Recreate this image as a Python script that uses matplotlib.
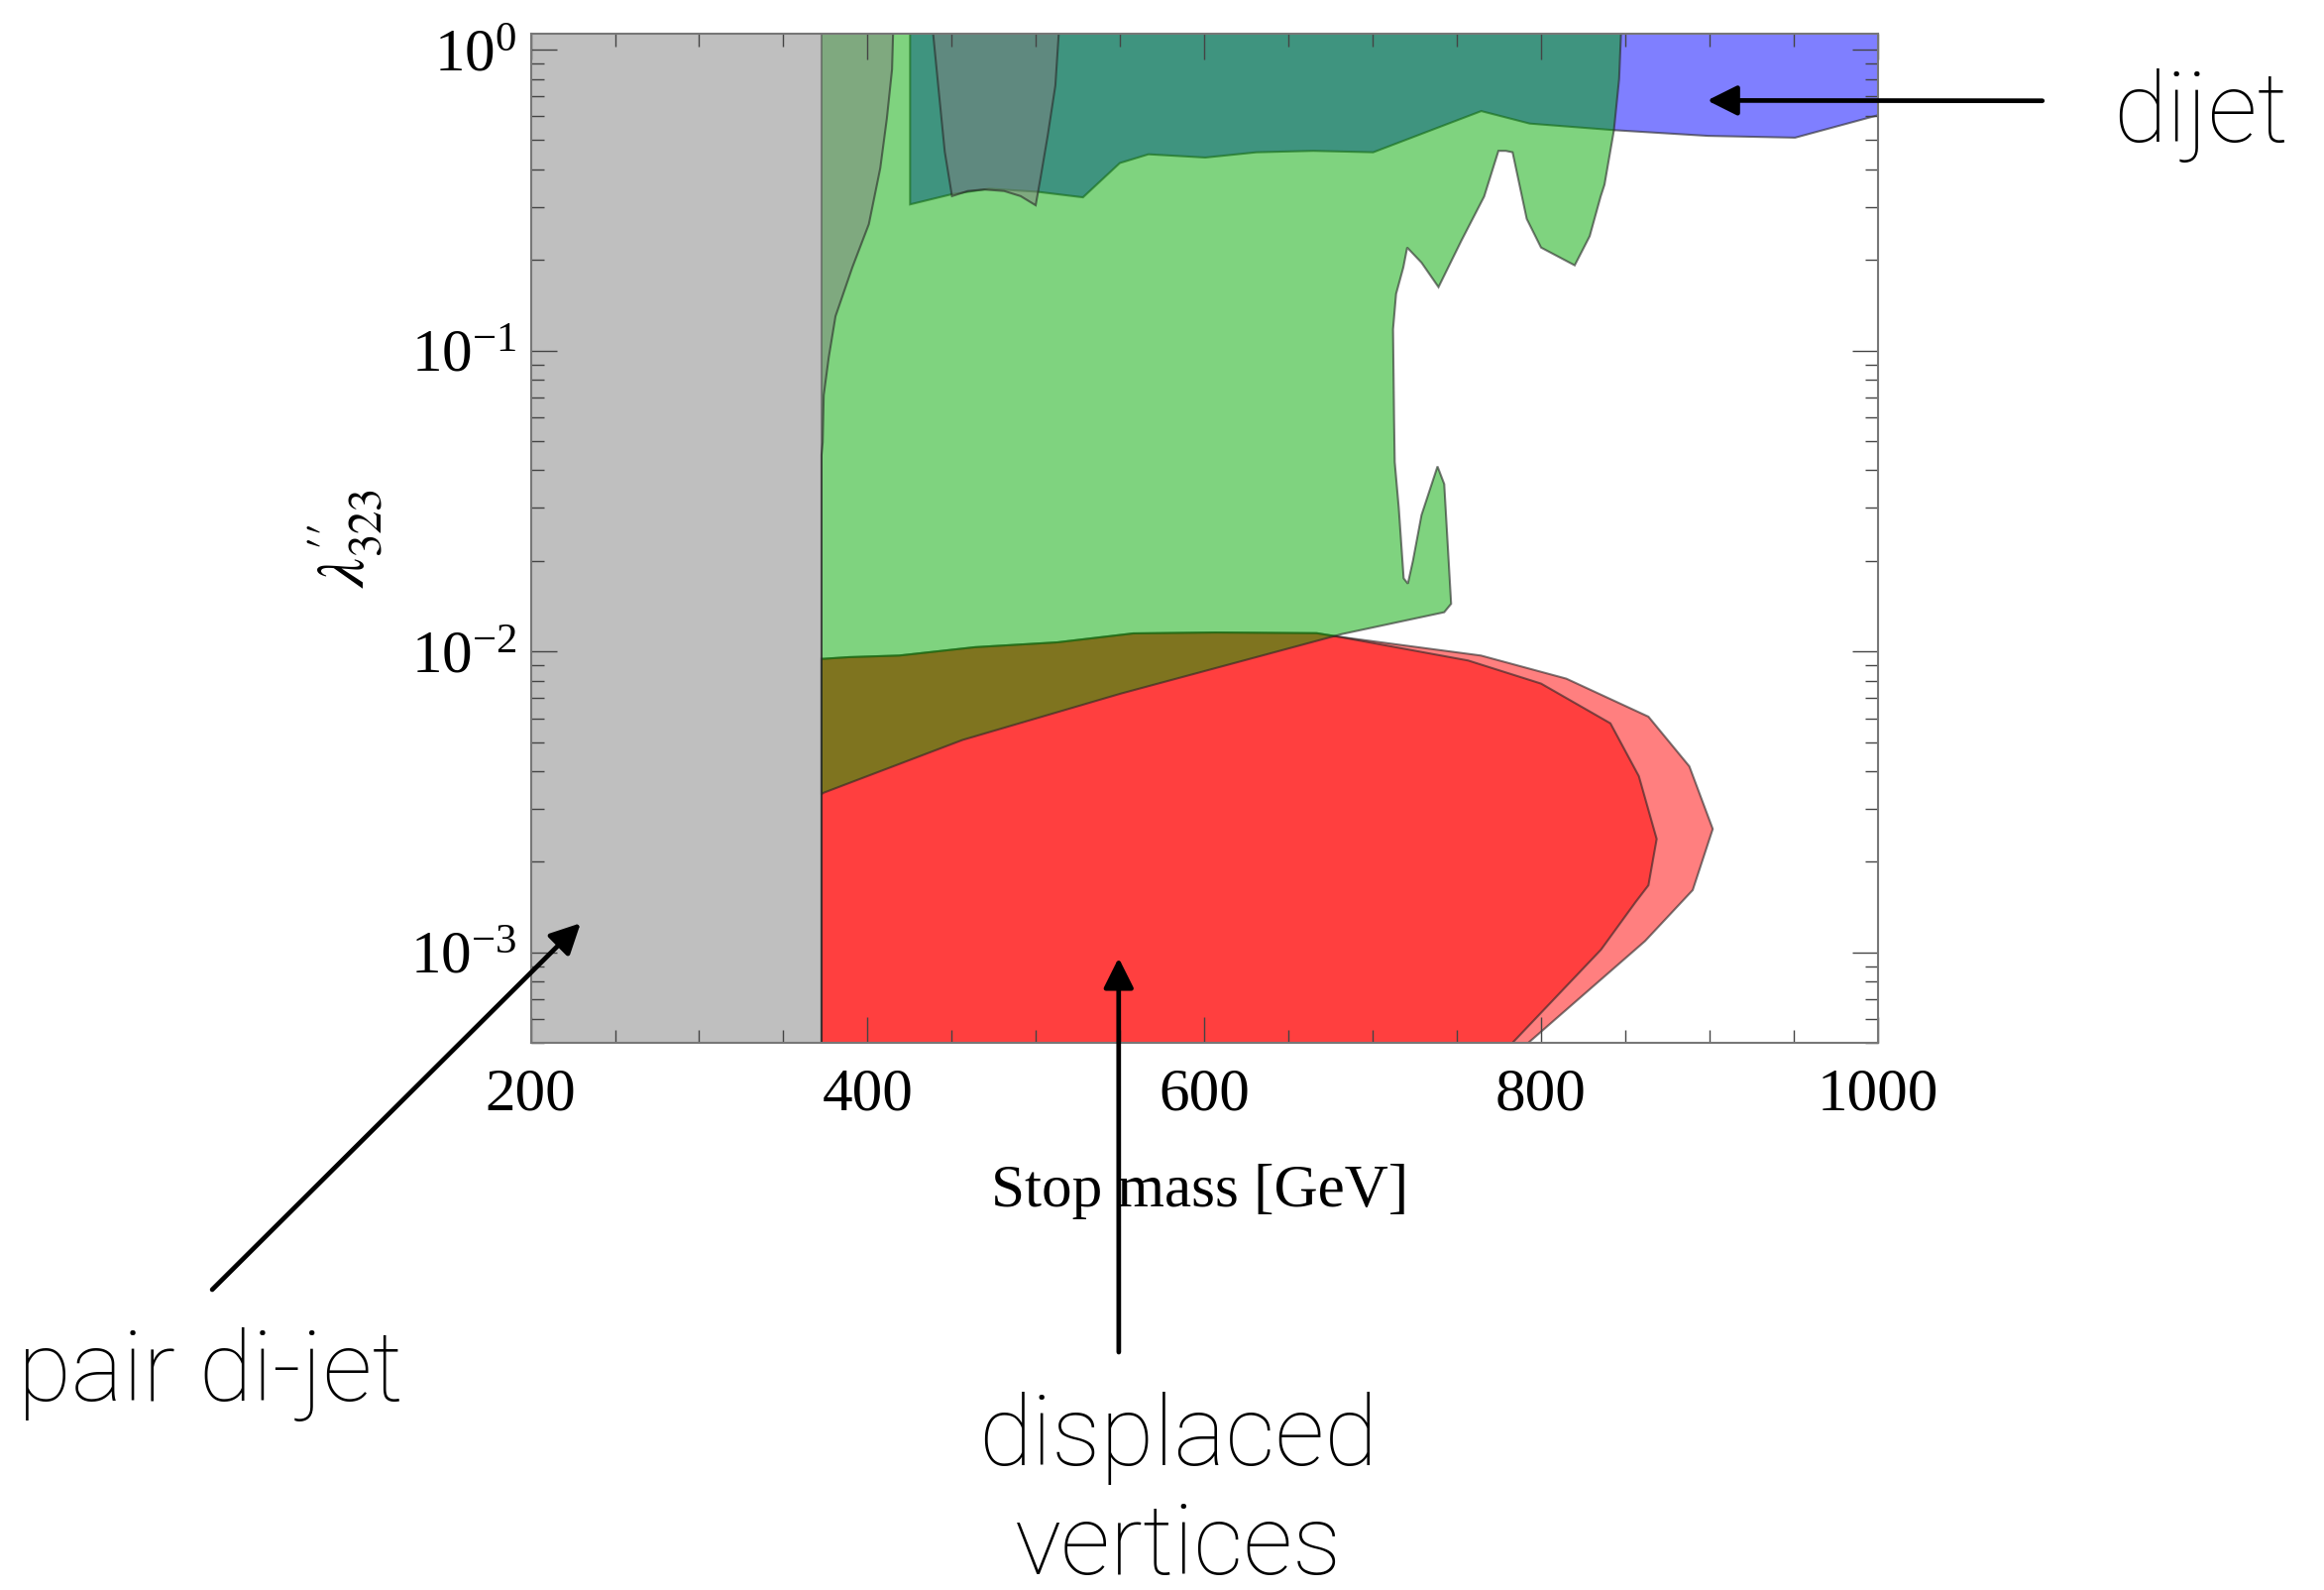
import matplotlib
matplotlib.use("Agg")
import matplotlib.pyplot as plt
from matplotlib.ticker import FixedLocator, MultipleLocator, LogLocator, NullFormatter


# exclusion regions, stop mass [GeV] vs lambda''_323
pair_dijet_x = [190, 372.7, 372.7, 373.4, 374, 377, 381, 391, 400.8, 407.6, 411.5, 414.6, 415.2, 416, 190]
pair_dijet_y = [4e-4, 4e-4, 0.045, 0.0495, 0.071, 0.095, 0.13, 0.189, 0.263, 0.404, 0.59, 0.86, 1.13, 2, 2]

dijet_x = [425.3, 425.3, 450.3, 472.2, 501, 528, 549.9, 566.9, 600.7, 631.1, 664.9, 700.4,
           764.6, 793.4, 844, 899.3, 951, 1000, 1010, 1010]
dijet_y = [2, 0.306, 0.331, 0.345, 0.337, 0.323, 0.42, 0.449, 0.438, 0.456, 0.461, 0.456,
           0.625, 0.568, 0.54, 0.517, 0.51, 0.605, 0.62, 2]

green_x = [372.7, 848, 847.6, 846.5, 843.4, 837.8, 835.5, 829, 820.1, 800.1, 791.6, 783.2,
           779.2, 774.8, 766.3, 752.8, 739.2, 729.1, 720.6, 718.3, 714, 712.2, 712.8, 713.2,
           715.6, 718.5, 721, 724, 729.1, 738.6, 742.6, 746.7, 742.6, 681.8, 550.4, 456.5,
           373.9, 372.7]
green_y = [2, 2, 1.13, 0.8, 0.54, 0.356, 0.325, 0.24, 0.192, 0.22, 0.274, 0.456,
           0.461, 0.461, 0.325, 0.232, 0.1625, 0.196, 0.22, 0.189, 0.1543, 0.1177, 0.06, 0.0426,
           0.03, 0.0175, 0.0168, 0.02, 0.0284, 0.0412, 0.036, 0.0144, 0.0135, 0.01142, 0.00724, 0.00508,
           0.00339, 0.00335]

cup_x = [438.5, 439, 442, 445.9, 450.2, 459.6, 469.4, 481.2, 491, 499.9, 502.8, 507.1, 511.6, 513.6, 514]
cup_y = [2, 1.13, 0.76, 0.458, 0.326, 0.339, 0.343, 0.339, 0.326, 0.304, 0.375, 0.52, 0.76, 1.13, 2]

dv_top_x = [372.7, 373.9, 388.9, 418.9, 463.9, 512.8, 557.9, 606.7, 666.8, 679.9]
dv_top_y = [0.00945, 0.00945, 0.00957, 0.00969, 0.01033, 0.01072, 0.01148, 0.01156, 0.0115, 0.01119]

dv_outer_x = [764.4, 815.1, 863.9, 888.2, 902.1, 890.2, 861.9, 792.5, 780, 372.7]
dv_outer_y = [0.00969, 0.00812, 0.00607, 0.00415, 0.00257, 0.00161, 0.00109, 5e-4, 4e-4, 4e-4]

dv_inner_x = [756.8, 800.1, 841.3, 858.2, 868.8, 863.9, 856.3, 835.7, 783.1, 772, 372.7]
dv_inner_y = [0.00933, 0.00782, 0.00577, 0.00385, 0.00238, 0.00167, 0.00147, 0.00102, 5e-4, 4e-4, 4e-4]

x_major = [200, 400, 600, 800, 1000]
y_major = [1e-3, 1e-2, 1e-1, 1]

EDGE = (0.15, 0.15, 0.15, 0.6)


def add_region(ax, xs, ys, color):
    ax.fill(xs, ys, facecolor=color, alpha=0.5, edgecolor="none")
    ax.fill(xs, ys, facecolor="none", edgecolor=EDGE, linewidth=1.5)


def main():
    plt.rcParams["font.family"] = ["Liberation Serif", "DejaVu Serif"]
    plt.rcParams["mathtext.fontset"] = "stix"

    fig = plt.figure(figsize=(23.45, 16.04), dpi=100)
    ax = fig.add_axes([0.2284, 0.3441, 0.5795, 0.6347])

    add_region(ax, dv_top_x + dv_outer_x, dv_top_y + dv_outer_y, (1, 0, 0))
    add_region(ax, dv_top_x + dv_inner_x, dv_top_y + dv_inner_y, (1, 0, 0))
    add_region(ax, dijet_x, dijet_y, (0, 0, 1))
    add_region(ax, green_x, green_y, (0, 0.663, 0))
    add_region(ax, pair_dijet_x, pair_dijet_y, (0.5, 0.5, 0.5))
    add_region(ax, cup_x, cup_y, (0.5, 0.5, 0.5))

    ax.set_xlim(200, 1000)
    ax.set_yscale("log")
    ax.set_ylim(5e-4, 1.13)

    ax.xaxis.set_major_locator(FixedLocator(x_major))
    ax.xaxis.set_minor_locator(MultipleLocator(50))
    ax.yaxis.set_major_locator(FixedLocator(y_major))
    ax.yaxis.set_minor_locator(LogLocator(base=10, subs=range(2, 10)))
    ax.yaxis.set_minor_formatter(NullFormatter())

    ax.tick_params(which="both", direction="in", top=True, right=True,
                   color="#444444", width=1.0, labelsize=44)
    ax.tick_params(which="major", length=19)
    ax.tick_params(which="minor", length=9.5)
    ax.tick_params(axis="x", pad=18)
    ax.tick_params(axis="y", pad=10)
    for spine in ax.spines.values():
        spine.set_color("#777777")
        spine.set_linewidth(1.5)

    ax.set_xlabel("Stop mass [GeV]", fontsize=44)
    ax.xaxis.set_label_coords(0.497, -0.12)
    ax.set_ylabel(r"$\lambda^{\prime\prime}_{323}$", fontsize=48)
    ax.yaxis.set_label_coords(-0.108, 0.5)

    sans = dict(family=["Roboto", "DejaVu Sans"], fontweight="light", fontsize=71, color="black")
    fig.text(2132 / 2345, 1 - 143 / 1604, "dijet", ha="left", va="baseline", **sans)
    fig.text(18 / 2345, 1 - 1413 / 1604, "pair di-jet", ha="left", va="baseline", **sans)
    fig.text(1189 / 2345, 1 - 1478 / 1604, "displaced", ha="center", va="baseline", **sans)
    fig.text(1189 / 2345, 1 - 1588 / 1604, "vertices", ha="center", va="baseline", **sans)

    arrow = dict(arrowstyle="-|>", color="black", lw=3.4, mutation_scale=46, shrinkA=0, shrinkB=0)
    ax.annotate("", xy=(898.8, 0.678), xycoords="data",
                xytext=(0.8788, 0.9366), textcoords="figure fraction", arrowprops=arrow,
                annotation_clip=False)
    ax.annotate("", xy=(229.6, 0.00125), xycoords="data",
                xytext=(0.0913, 0.1889), textcoords="figure fraction", arrowprops=arrow,
                annotation_clip=False)
    ax.annotate("", xy=(549.2, 0.000958), xycoords="data",
                xytext=(0.4814, 0.1496), textcoords="figure fraction", arrowprops=arrow,
                annotation_clip=False)

    fig.savefig("out.png", dpi=100)
    plt.close(fig)


if __name__ == "__main__":
    main()
